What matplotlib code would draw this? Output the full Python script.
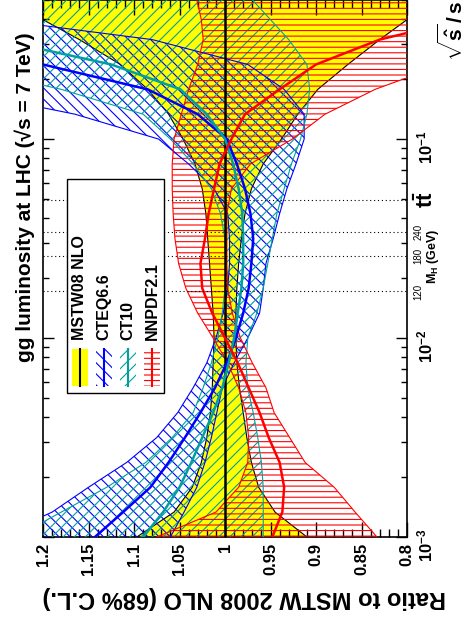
import matplotlib
matplotlib.use('Agg')
import matplotlib.pyplot as plt
from matplotlib.patches import Rectangle
from matplotlib.lines import Line2D
from matplotlib.ticker import FixedLocator, NullFormatter
from matplotlib.transforms import blended_transform_factory

plt.rcParams['font.family'] = ['Liberation Sans', 'DejaVu Sans']
plt.rcParams['font.weight'] = 'bold'
plt.rcParams['mathtext.fontset'] = 'custom'
plt.rcParams['mathtext.rm'] = 'Liberation Sans:bold'
plt.rcParams['mathtext.bf'] = 'Liberation Sans:bold'
plt.rcParams['mathtext.it'] = 'Liberation Sans:bold'
plt.rcParams['hatch.linewidth'] = 0.8

# sqrt(shat)/s values
tau = [0.001, 0.001334, 0.001778, 0.002371, 0.003162, 0.004217, 0.005623, 0.007499,
       0.01, 0.01334, 0.01778, 0.02371, 0.03162, 0.04217, 0.05623, 0.07499,
       0.1, 0.1334, 0.1778, 0.2371, 0.3162, 0.3981, 0.5012]

# ratio to MSTW08 NLO: upper / central / lower
mstw_hi = [1.097, 1.056, 1.036, 1.026, 1.020, 1.016, 1.014, 1.013, 1.012, 1.013, 1.015, 1.017,
           1.019, 1.021, 1.025, 1.033, 1.046, 1.062, 1.085, 1.115, 1.16, 1.20, 1.25]
mstw_lo = [0.910, 0.945, 0.963, 0.971, 0.976, 0.980, 0.984, 0.987, 0.988, 0.988, 0.987, 0.985,
           0.982, 0.978, 0.971, 0.958, 0.938, 0.92, 0.898, 0.865, 0.83, 0.80, 0.77]

cteq_hi = [1.25, 1.19, 1.15, 1.108, 1.075, 1.052, 1.035, 1.02, 1.01, 1.002, 0.997, 0.995,
           0.995, 0.997, 1.012, 1.04, 1.073, 1.165, 1.3, 1.45, 1.6, 1.7, 1.8]
cteq_c = [1.143, 1.112, 1.082, 1.062, 1.044, 1.027, 1.011, 0.998, 0.988, 0.98, 0.974, 0.971,
          0.969, 0.972, 0.978, 0.987, 0.998, 1.03, 1.085, 1.2, 1.33, 1.42, 1.5]
cteq_lo = [1.06, 1.045, 1.031, 1.022, 1.015, 1.009, 1.003, 0.99, 0.975, 0.962, 0.958, 0.955,
           0.947, 0.94, 0.932, 0.922, 0.913, 0.913, 0.935, 0.975, 1.08, 1.25, 1.4]

ct10_hi = [1.23, 1.18, 1.13, 1.087, 1.058, 1.035, 1.024, 1.015, 1.008, 1.003, 1.0, 0.999,
           1.0, 1.005, 1.015, 1.035, 1.06, 1.09, 1.18, 1.3, 1.5, 1.65, 1.8]
ct10_c = [1.09, 1.068, 1.05, 1.037, 1.025, 1.013, 1.003, 0.996, 0.99, 0.986, 0.982, 0.98,
          0.98, 0.981, 0.985, 0.991, 1.0, 1.02, 1.049, 1.125, 1.25, 1.33, 1.4]
ct10_lo = [0.958, 0.958, 0.958, 0.96, 0.964, 0.969, 0.975, 0.977, 0.975, 0.965, 0.958, 0.953,
           0.948, 0.943, 0.935, 0.927, 0.917, 0.91, 0.907, 0.91, 0.93, 0.95, 0.97]

nnpdf_hi = [1.075, 1.01, 0.985, 0.975, 0.974, 0.977, 0.985, 0.997, 1.013, 1.03, 1.043, 1.051,
            1.055, 1.057, 1.058, 1.058, 1.056, 1.048, 1.04, 1.03, 1.024, 1.026, 1.031]
nnpdf_c = [0.948, 0.937, 0.935, 0.94, 0.952, 0.962, 0.974, 0.986, 1.0, 1.014, 1.025, 1.027,
           1.022, 1.018, 1.012, 1.006, 0.993, 0.978, 0.94, 0.9, 0.83, 0.74, 0.68]
nnpdf_lo = [0.833, 0.857, 0.88, 0.912, 0.929, 0.946, 0.955, 0.97, 0.983, 0.992, 0.997, 0.998,
            0.998, 0.998, 0.993, 0.972, 0.926, 0.89, 0.835, 0.76, 0.68, 0.62, 0.56]

mh = [120, 180, 240]
mh_labels = ['120', '180', '240']
mtt = 346
sqrts = 7000

ratio_ticks = [1.2, 1.15, 1.1, 1.05, 1.0, 0.95, 0.9, 0.85, 0.8]
ratio_labels = ['1.2', '1.15', '1.1', '1.05', '1', '0.95', '0.9', '0.85', '0.8']
tau_ticks = [1e-3, 1e-2, 1e-1]
tau_labels = [r'$10^{-3}$', r'$10^{-2}$', r'$10^{-1}$']

yellow = '#ffff00'
blue = '#0000ff'
teal = '#00a0a0'
red = '#ff0000'

W, H = 468, 621
fig = plt.figure(figsize=(W / 100, H / 100), dpi=100)


def fx(x):
    return x / W


def fy(y):
    return 1 - y / H


ax = fig.add_axes([fx(43), fy(537), 364 / W, 537 / H])

# MSTW08 band
ax.fill_betweenx(tau, mstw_lo, mstw_hi, facecolor=yellow, edgecolor='none', zorder=1)
ax.plot(mstw_lo, tau, color='black', lw=0.8, zorder=2)
ax.plot(mstw_hi, tau, color='black', lw=0.8, zorder=2)

# hatched bands
ax.fill_betweenx(tau, cteq_lo, cteq_hi, facecolor='none', edgecolor=blue, hatch='\\\\\\', lw=0, zorder=3)
ax.fill_betweenx(tau, ct10_lo, ct10_hi, facecolor='none', edgecolor=teal, hatch='///', lw=0, zorder=3)
ax.fill_betweenx(tau, nnpdf_lo, nnpdf_hi, facecolor='none', edgecolor=red, hatch='---', lw=0, zorder=3)
for lo, hi, c in [(cteq_lo, cteq_hi, blue), (ct10_lo, ct10_hi, teal), (nnpdf_lo, nnpdf_hi, red)]:
    ax.plot(lo, tau, color=c, lw=0.8, zorder=4)
    ax.plot(hi, tau, color=c, lw=0.8, zorder=4)

# central values
ax.plot([1.0] * len(tau), tau, color='black', lw=1.8, zorder=5)
ax.plot(cteq_c, tau, color=blue, lw=1.8, zorder=5)
ax.plot(ct10_c, tau, color=teal, lw=1.8, zorder=5)
ax.plot(nnpdf_c, tau, color=red, lw=1.8, zorder=5)

# Higgs mass and ttbar markers
for m in mh + [mtt]:
    ax.axhline(m / sqrts, color='black', ls=(0, (1, 2.5)), lw=0.8, zorder=6)

ax.set_xlim(1.2, 0.8)
ax.set_yscale('log')
ax.set_ylim(1e-3, 0.5)

ax.xaxis.set_major_locator(FixedLocator(ratio_ticks))
ax.set_xticklabels(ratio_labels, rotation=90, fontsize=12, fontweight='bold')
ax.xaxis.set_minor_locator(FixedLocator([0.8 + 0.01 * i for i in range(41)]))
ax.yaxis.set_major_locator(FixedLocator(tau_ticks))
ax.set_yticklabels(tau_labels, rotation=90, fontsize=12)
ax.yaxis.set_minor_locator(FixedLocator([k * 10.0 ** e for e in (-3, -2, -1) for k in range(2, 10)]))
ax.yaxis.set_minor_formatter(NullFormatter())
ax.tick_params(axis='both', which='both', direction='in', top=True, right=True,
               left=True, bottom=True, labelleft=False, labelright=True, width=1)
ax.tick_params(axis='x', which='major', length=11, pad=4)
ax.tick_params(axis='x', which='minor', length=5.5)
ax.tick_params(axis='y', which='major', length=8, pad=6)
ax.tick_params(axis='y', which='minor', length=4)
for s in ax.spines.values():
    s.set_linewidth(1.2)

# labels around the frame
tr = blended_transform_factory(ax.transAxes, ax.transData)
for m, lab in zip(mh, mh_labels):
    ax.text(1.017, m / sqrts, lab, transform=tr, rotation=90, fontsize=7,
            fontweight='normal', ha='left', va='center')
ax.text(1.05, 180 / sqrts, r'$\mathregular{M_H}$ (GeV)', transform=tr, rotation=90,
        fontsize=9, ha='left', va='center')
ax.text(1.02, mtt / sqrts, r'$\mathbf{t\bar{t}}$', transform=tr, rotation=90,
        fontsize=16, ha='left', va='center')

fig.text(fx(452), fy(1), r'$\sqrt{\hat{s}}\,/\,s$', rotation=90, fontsize=15,
         ha='center', va='top')
fig.text(fx(25), fy(362), 'gg luminosity at LHC (√s = 7 TeV)', rotation=90,
         fontsize=15, fontweight='bold', ha='center', va='bottom')
fig.text(fx(43), fy(597), 'Ratio to MSTW 2008 NLO (68% C.L.)', rotation=180,
         fontsize=17, fontweight='bold', ha='left', va='center')

# legend drawn by hand, rotated like the rest
fig.add_artist(Rectangle((fx(67), fy(393)), 97 / W, 214 / H, transform=fig.transFigure,
                         facecolor='white', edgecolor='black', lw=1, zorder=10))
names = ['MSTW08 NLO', 'CTEQ6.6', 'CT10', 'NNPDF2.1']
cols = ['black', blue, teal, red]
hatches = [None, '\\\\\\', '///', '---']
xc = [80, 104, 128, 152]
for name, c, h, x in zip(names, cols, hatches, xc):
    if h is None:
        fig.add_artist(Rectangle((fx(x - 8), fy(386)), 16 / W, 37 / H, transform=fig.transFigure,
                                 facecolor=yellow, edgecolor='none', zorder=11))
    else:
        fig.add_artist(Rectangle((fx(x - 8), fy(386)), 16 / W, 37 / H, transform=fig.transFigure,
                                 facecolor='none', edgecolor=c, hatch=h, lw=0, zorder=11))
    fig.add_artist(Line2D([fx(x), fx(x)], [fy(386), fy(349)], transform=fig.transFigure,
                          color=c, lw=1.5, zorder=12))
    fig.text(fx(x), fy(340), name, rotation=90, fontsize=11.5, fontweight='bold',
             ha='center', va='bottom', zorder=12)

fig.savefig('out.png', dpi=100)
